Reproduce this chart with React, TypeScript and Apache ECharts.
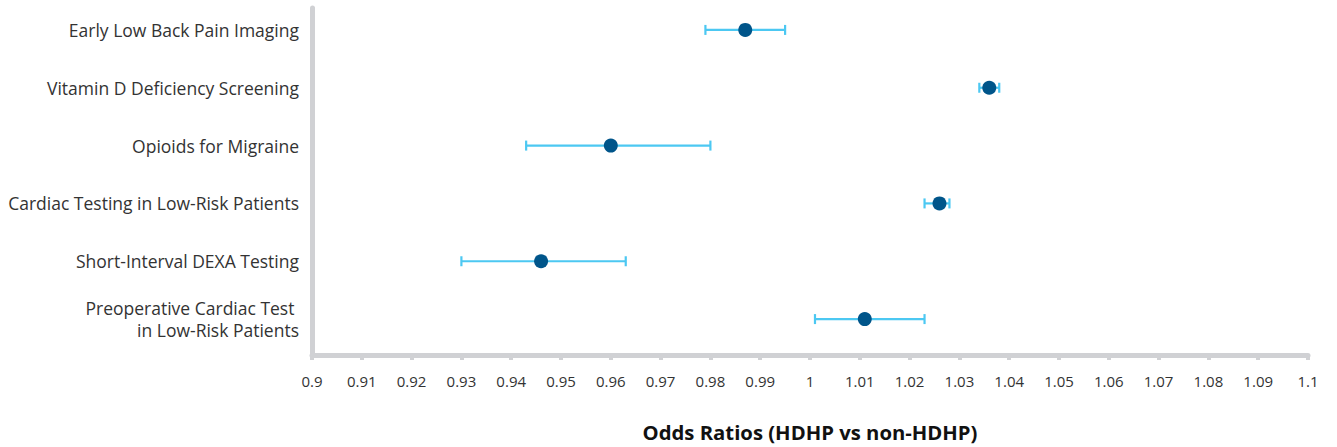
import React, { useEffect, useRef } from "react";
import * as echarts from "echarts";

const categories = [
  "Early Low Back Pain Imaging",
  "Vitamin D Deficiency Screening",
  "Opioids for Migraine",
  "Cardiac Testing in Low-Risk Patients",
  "Short-Interval DEXA Testing",
  "Preoperative Cardiac Test \nin Low-Risk Patients",
];
const estimates = [0.987, 1.036, 0.96, 1.026, 0.946, 1.011];
const lowerCI = [0.979, 1.034, 0.943, 1.023, 0.93, 1.001];
const upperCI = [0.995, 1.038, 0.98, 1.028, 0.963, 1.023];
const xMin = 0.9;
const xMax = 1.1;
const xInterval = 0.01;
const xTitle = "Odds Ratios (HDHP vs non-HDHP)";

const FONT = "Open Sans";
const GREY = "#d0d1d4";

export default function App() {
  const ref = useRef<HTMLDivElement>(null);
  useEffect(() => {
    if (!ref.current) return;
    const chart = echarts.init(ref.current, null, { renderer: "svg" });
    const errData = categories.map((_, i) => [i, lowerCI[i], upperCI[i]]);
    const dotData = categories.map((_, i) => [estimates[i], i]);
    chart.setOption({
      animation: false,
      backgroundColor: "#ffffff",
      grid: [
        { left: 312, right: 29, top: 1, height: 347 },
        { left: 312, right: 29, top: 8, bottom: 86 },
      ],
      xAxis: [
        {
          type: "value",
          gridIndex: 0,
          min: xMin,
          max: xMax,
          show: false,
        },
        {
          type: "value",
          gridIndex: 1,
          min: xMin,
          max: xMax,
          interval: xInterval,
          axisLine: { show: true, lineStyle: { color: GREY, width: 5 } },
          axisTick: { show: true, length: 5, lineStyle: { color: GREY, width: 4 } },
          splitLine: { show: false },
          axisLabel: {
            color: "#333333",
            fontFamily: FONT,
            fontSize: 15,
            margin: 18,
            formatter: (v: number) => String(parseFloat(v.toFixed(2))),
          },
          name: xTitle,
          nameLocation: "middle",
          nameGap: 67,
          nameTextStyle: {
            color: "#111111",
            fontFamily: FONT,
            fontSize: 20.3,
            fontWeight: "bold",
          },
        },
      ],
      yAxis: [
        {
          type: "category",
          gridIndex: 0,
          data: categories,
          inverse: true,
          axisLine: { show: false },
          axisTick: { show: false },
          splitLine: { show: false },
          axisLabel: {
            color: "#333333",
            fontFamily: FONT,
            fontSize: 17.5,
            margin: 13,
            lineHeight: 22,
            align: "right",
          },
        },
        {
          type: "value",
          gridIndex: 1,
          min: 0,
          max: 1,
          axisLine: { show: true, lineStyle: { color: GREY, width: 5 } },
          axisTick: { show: false },
          axisLabel: { show: false },
          splitLine: { show: false },
        },
      ],
      series: [
        {
          type: "custom",
          xAxisIndex: 0,
          yAxisIndex: 0,
          data: errData,
          renderItem: (params: any, api: any) => {
            const idx = api.value(0);
            const lo = api.coord([api.value(1), idx]);
            const hi = api.coord([api.value(2), idx]);
            const h = 5;
            const style = { stroke: "#4cc8f2", lineWidth: 2.2 };
            return {
              type: "group",
              children: [
                { type: "line", shape: { x1: lo[0], y1: lo[1], x2: hi[0], y2: hi[1] }, style },
                { type: "line", shape: { x1: lo[0], y1: lo[1] - h, x2: lo[0], y2: lo[1] + h }, style },
                { type: "line", shape: { x1: hi[0], y1: hi[1] - h, x2: hi[0], y2: hi[1] + h }, style },
              ],
            };
          },
          encode: { x: [1, 2], y: 0 },
          z: 2,
        },
        {
          type: "scatter",
          xAxisIndex: 0,
          yAxisIndex: 0,
          data: dotData,
          symbol: "circle",
          symbolSize: 14,
          itemStyle: { color: "#00558a", opacity: 1 },
          emphasis: { disabled: true },
          z: 3,
        },
      ],
    });
    return () => chart.dispose();
  }, []);
  return (
    <div
      ref={ref}
      style={{ position: "fixed", left: 0, top: 0, width: 1337, height: 447 }}
    />
  );
}
